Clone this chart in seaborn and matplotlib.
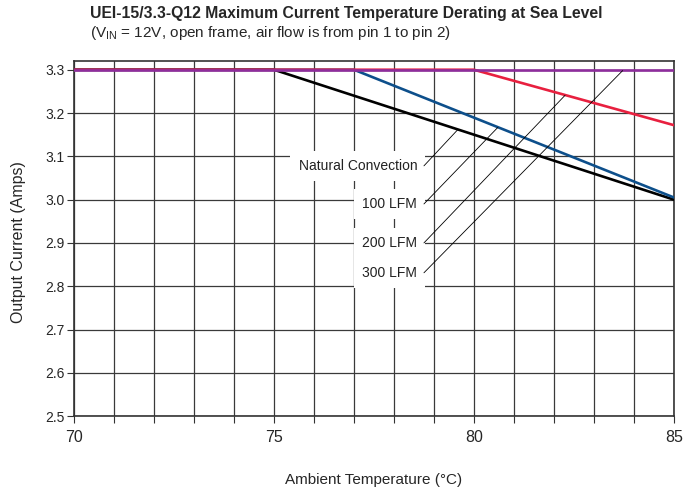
import numpy as np
import seaborn as sns
import matplotlib.pyplot as plt
from matplotlib.ticker import MultipleLocator

sns.set_theme(style="white")
plt.rcParams['font.family'] = ['Liberation Sans', 'DejaVu Sans']

# curve break points (temperature, current)
nc_temp = [70, 75, 85]
nc_amps = [3.3, 3.3, 3.0]
lfm100_temp = [70, 77, 85]
lfm100_amps = [3.3, 3.3, 3.005]
lfm200_temp = [70, 80, 85]
lfm200_amps = [3.3, 3.3, 3.172]
lfm300_temp = [70, 85]
lfm300_amps = [3.3, 3.3]

labels = ["Natural Convection", "100 LFM", "200 LFM", "300 LFM"]
label_y = [3.078, 2.99, 2.90, 2.831]
# where each leader touches its curve
leader_x = [79.6, 80.6, 82.28, 83.72]
leader_y = [3.162, 3.167, 3.241, 3.298]
colors = ["black", "#0d4f8b", "#e8203f", "#8e2e9c"]

fig, ax = plt.subplots(figsize=(6.99, 4.93), dpi=100)
fig.subplots_adjust(left=0.106, right=0.964, top=0.877, bottom=0.156)

series = [(nc_temp, nc_amps), (lfm100_temp, lfm100_amps),
          (lfm200_temp, lfm200_amps), (lfm300_temp, lfm300_amps)]
for (t, a), c in zip(series, colors):
    sns.lineplot(x=t, y=a, ax=ax, color=c, lw=1.9, zorder=3)

ax.set_xlim(70, 85)
ax.set_ylim(2.5, 3.321)
ax.xaxis.set_major_locator(MultipleLocator(5))
ax.xaxis.set_minor_locator(MultipleLocator(1))
ax.yaxis.set_major_locator(MultipleLocator(0.1))
ax.grid(which="both", color="#3a3a3a", lw=0.9)
ax.set_axisbelow(True)
ax.tick_params(which="both", direction="out", length=5, width=0.8, color="#333333",
               bottom=True, left=True, pad=2)
ax.tick_params(axis="y", labelsize=10)
ax.tick_params(axis="x", labelsize=11.5, pad=5)
ax.set_yticklabels([f"{v:.1f}" for v in ax.get_yticks()])
for s in ax.spines.values():
    s.set_color("#333333")
    s.set_linewidth(1.2)

for lab, ly, lx, cy in zip(labels, label_y, leader_x, leader_y):
    ax.text(78.58, ly, lab, ha="right", va="center", fontsize=10, color="#222222",
            zorder=4, bbox=dict(facecolor="white", edgecolor="none", pad=6))
    ax.plot([78.75, lx], [ly, cy], color="black", lw=0.6, zorder=5)

ax.set_xlabel("Ambient Temperature (°C)", fontsize=11, labelpad=20)
ax.set_ylabel("Output Current (Amps)", fontsize=11.5)
ax.yaxis.set_label_coords(-0.08, 0.49)

fig.text(0.129, 0.972, "UEI-15/3.3-Q12 Maximum Current Temperature Derating at Sea Level",
         fontsize=11.3, fontweight="bold", va="center")
fig.text(0.129, 0.933, r"(V$_\mathregular{IN}$ = 12V, open frame, air flow is from pin 1 to pin 2)",
         fontsize=11, va="center")

fig.savefig("out.png", dpi=100)
